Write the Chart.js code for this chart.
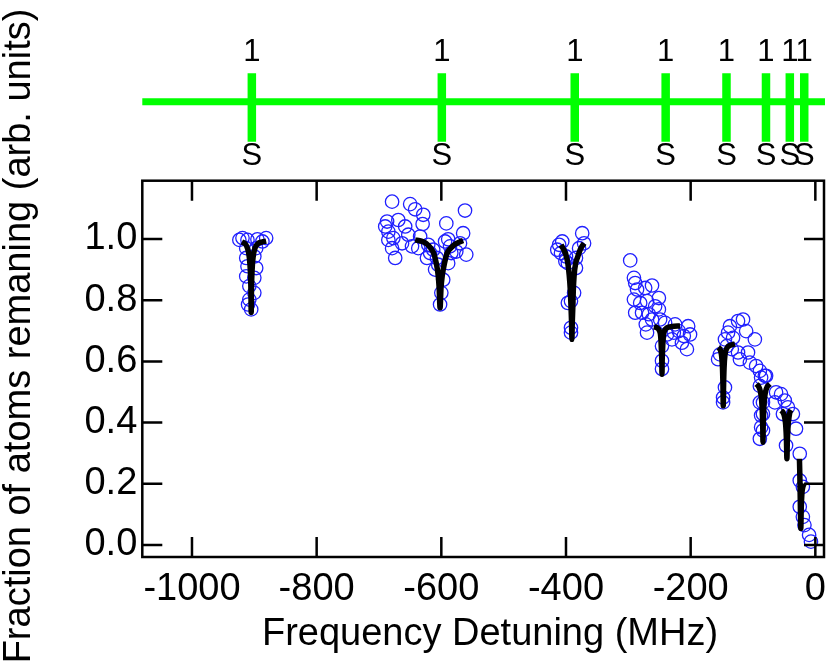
<!DOCTYPE html>
<html><head><meta charset="utf-8">
<script src="https://cdn.jsdelivr.net/npm/chart.js@4.4.1/dist/chart.umd.min.js"></script>
<style>
html,body{margin:0;padding:0;background:#fff;}
#wrap{position:relative;width:832px;height:670px;}
canvas{position:absolute;left:0;top:0;}
</style></head><body>
<div id="wrap">
<canvas id="main" width="832" height="670"></canvas>
<canvas id="top" width="832" height="180"></canvas>
</div>
<script>
// ---------- data ----------
const transitionFreqs = [-905, -602, -390, -245, -148, -85, -47, -24];
const upperLabels = ['1','1','1','1','1','1','1','1'];
const lowerLabels = ['S','S','S','S','S','S','S','S'];
const xTicks = [-1000, -800, -600, -400, -200, 0];
const yTicks = [0.0, 0.2, 0.4, 0.6, 0.8, 1.0];
const xTitle = 'Frequency Detuning (MHz)';
const yTitle = 'Fraction of atoms remaning (arb. units)';

const measured = [
 [-924,0.997],[-919,1.003],[-911,0.997],[-895,0.999],[-881,1.003],[-887,0.992],[-913,0.970],[-897,0.970],
 [-913,0.938],[-900,0.943],[-911,0.911],[-897,0.905],[-913,0.878],[-900,0.873],[-908,0.846],[-900,0.824],
 [-908,0.802],[-905,0.770],[-910,0.786],
 [-679,1.122],[-650,1.114],[-642,1.097],[-629,1.079],[-630,1.049],[-562,1.093],[-592,1.051],[-565,1.019],
 [-687,1.057],[-690,1.041],[-685,1.024],[-669,1.062],[-658,1.041],[-685,0.997],[-677,1.003],[-663,0.986],
 [-674,0.938],[-679,0.970],[-653,1.014],[-634,1.008],[-647,0.976],[-637,0.970],[-621,0.981],[-613,0.965],
 [-623,0.938],[-610,0.900],[-607,0.938],[-597,0.867],[-600,0.824],[-602,0.786],[-586,0.976],[-584,0.954],
 [-589,0.921],[-576,0.959],[-570,0.986],[-560,0.949],[-594,0.992],[-589,0.999],[-618,0.954],[-605,0.916],
 [-392,0.694],[-392,0.710],[-392,0.797],[-397,0.791],[-387,0.824],[-406,0.992],[-411,0.981],[-414,0.965],
 [-408,0.954],[-400,0.943],[-397,0.921],[-384,0.905],[-374,1.019],[-371,0.986],[-379,0.970],[-384,0.938],
 [-401,0.927],
 [-297,0.930],[-291,0.873],[-289,0.856],[-262,0.848],[-286,0.835],[-273,0.840],[-251,0.807],[-291,0.802],
 [-281,0.791],[-270,0.797],[-257,0.780],[-251,0.770],[-289,0.759],[-278,0.759],[-267,0.754],[-262,0.737],
 [-249,0.737],[-272,0.721],[-270,0.694],[-241,0.726],[-225,0.721],[-219,0.699],[-204,0.715],[-201,0.688],
 [-206,0.640],[-214,0.661],[-230,0.672],[-238,0.688],[-246,0.650],[-246,0.602],[-246,0.575],[-211,0.683],
 [-227,0.694],
 [-148,0.466],[-148,0.482],[-145,0.515],[-156,0.607],[-153,0.623],[-145,0.672],[-137,0.715],[-124,0.732],
 [-116,0.737],[-140,0.694],[-132,0.677],[-111,0.699],[-97,0.672],[-121,0.607],[-124,0.629],[-108,0.629],
 [-105,0.596],[-95,0.585],[-87,0.547],[-81,0.553],[-89,0.520],[-89,0.466],[-87,0.423],[-87,0.385],
 [-89,0.347],[-63,0.499],[-65,0.466],[-89,0.569],[-142,0.650],[-134,0.640],
 [-79,0.553],[-84,0.466],[-84,0.428],[-84,0.374],[-55,0.493],[-49,0.472],[-44,0.450],[-36,0.428],
 [-31,0.380],[-47,0.325],[-25,0.298],[-25,0.211],[-20,0.190],[-25,0.125],[-20,0.092],[-17.5,0.065],
 [-10,0.033],[-7,0.011],[-52,0.428]
];

const fit1 = [[-920,0.990],[-915,0.985],[-911,0.970],[-908,0.940],[-906.5,0.900],[-905.5,0.840],[-905,0.760],
 [-904.5,0.840],[-903.5,0.900],[-902,0.940],[-899,0.970],[-894,0.985],[-888,0.990],[-881,0.993]];
const fit2 = [[-642,0.997],[-632,0.993],[-624,0.985],[-617,0.970],[-612,0.952],[-608,0.920],[-605,0.880],
 [-603.5,0.840],[-602,0.775],[-600.5,0.840],[-598.5,0.880],[-595,0.920],[-591,0.952],[-585,0.970],
 [-578,0.983],[-570,0.991],[-565,0.995]];
const fit3 = [[-408,0.981],[-404,0.967],[-400,0.947],[-397,0.920],[-395,0.885],[-393,0.830],[-392,0.780],
 [-391,0.720],[-390.5,0.672],[-390,0.720],[-389,0.780],[-388.3,0.830],[-387,0.880],[-384.5,0.920],
 [-381.5,0.940],[-377,0.966],[-371,0.986]];
const fit4 = [[-259,0.713],[-254,0.710],[-250,0.700],[-248,0.680],[-247,0.640],[-246.3,0.600],[-246,0.558],
 [-245.7,0.600],[-245,0.640],[-244,0.680],[-242,0.700],[-238,0.710],[-230,0.714],[-217,0.716]];
const fit5 = [[-156,0.645],[-153,0.640],[-150.5,0.620],[-149,0.580],[-148.2,0.520],[-147.7,0.455],
 [-147.2,0.520],[-146.4,0.580],[-145,0.620],[-142,0.643],[-137,0.652],[-129,0.657]];
const fit6 = [[-94.6,0.526],[-91,0.518],[-88,0.500],[-86,0.470],[-85,0.430],[-84.3,0.380],[-84,0.336],
 [-83.7,0.380],[-83,0.430],[-82,0.470],[-80,0.500],[-77,0.518],[-73,0.526]];
const fit7 = [[-55,0.439],[-52,0.434],[-49.5,0.420],[-47.5,0.390],[-46.3,0.340],[-45.6,0.282],[-44.9,0.340],
 [-43.7,0.390],[-42,0.420],[-40.5,0.436],[-39,0.441]];
const fit8 = [[-25.5,0.282],[-25,0.240],[-24.6,0.200],[-24.2,0.150],[-23.8,0.100],[-23.3,0.054],
 [-22.6,0.120],[-21.5,0.170],[-20,0.190],[-18,0.200]];
const fits = [fit1, fit2, fit3, fit4, fit5, fit6, fit7, fit8];

// ---------- styling / layout ----------
const FONT = '"Liberation Sans", Arial, Helvetica, sans-serif';
const xMin = -1079.7, xMax = 13.9;
const yMin = -0.0392, yMax = 1.1905;
const PLOT_LEFT = 142.3, PLOT_RIGHT_PAD = 4, PLOT_TOP = 180.7, XAXIS_H = 113;
const BLUE = '#2020ff', GREEN = '#00ff00';

const toXY = arr => arr.map(p => ({x: p[0], y: p[1]}));
const noOverhang = s => { s.paddingLeft = 0; s.paddingRight = 0; s.paddingTop = 0; s.paddingBottom = 0; };

const framePlugin = {
  id: 'frame',
  afterDatasetsDraw(chart) {
    const {ctx, chartArea: a, scales: {x, y}} = chart;
    ctx.save();
    ctx.strokeStyle = '#000';
    ctx.lineWidth = 2.5;
    ctx.lineCap = 'butt';
    ctx.strokeRect(a.left, a.top, a.right - a.left, a.bottom - a.top);
    const TL = 20;
    ctx.beginPath();
    xTicks.forEach(v => {
      const px = x.getPixelForValue(v);
      ctx.moveTo(px, a.bottom); ctx.lineTo(px, a.bottom - TL);
      ctx.moveTo(px, a.top); ctx.lineTo(px, a.top + TL);
    });
    yTicks.forEach(v => {
      const py = y.getPixelForValue(v);
      ctx.moveTo(a.left, py); ctx.lineTo(a.left + TL, py);
      ctx.moveTo(a.right, py); ctx.lineTo(a.right - TL, py);
    });
    ctx.stroke();
    ctx.restore();
  },
  afterDraw(chart) {
    const {ctx} = chart;
    ctx.save();
    ctx.fillStyle = '#000';
    ctx.font = '38px ' + FONT;
    ctx.textAlign = 'center';
    ctx.textBaseline = 'alphabetic';
    ctx.fillText(xTitle, 490, 645);
    ctx.translate(30, 336);
    ctx.rotate(-Math.PI / 2);
    ctx.fillText(yTitle, 0, 0);
    ctx.restore();
  }
};

new Chart(document.getElementById('main'), {
  type: 'scatter',
  data: {
    datasets: [
      ...fits.map(f => ({
        type: 'line', data: toXY(f), showLine: true, borderColor: '#000', borderWidth: 5.5,
        pointRadius: 0, fill: false, cubicInterpolationMode: 'monotone',
        borderJoinStyle: 'round', borderCapStyle: 'butt'
      })),
      {
        data: toXY(measured), showLine: false, pointRadius: 6.7, pointHoverRadius: 6.7,
        pointBorderWidth: 1.3, pointBorderColor: BLUE, pointBackgroundColor: 'rgba(0,0,0,0)'
      }
    ]
  },
  options: {
    responsive: false, animation: false, devicePixelRatio: 1,
    layout: {padding: {left: 0, right: PLOT_RIGHT_PAD, top: PLOT_TOP, bottom: 0}},
    plugins: {legend: {display: false}, tooltip: {enabled: false}},
    scales: {
      x: {
        type: 'linear', min: xMin, max: xMax,
        afterBuildTicks: s => { s.ticks = xTicks.map(v => ({value: v})); },
        afterFit: s => { s.height = XAXIS_H; noOverhang(s); },
        grid: {display: false, drawTicks: false}, border: {display: false},
        ticks: {font: {family: FONT, size: 38}, color: '#000', padding: 10, maxRotation: 0,
                autoSkip: false, callback: v => String(v)}
      },
      y: {
        type: 'linear', min: yMin, max: yMax,
        afterBuildTicks: s => { s.ticks = yTicks.map(v => ({value: v})); },
        afterFit: s => { s.width = PLOT_LEFT; noOverhang(s); },
        grid: {display: false, drawTicks: false}, border: {display: false},
        ticks: {font: {family: FONT, size: 38}, color: '#000', padding: 5,
                autoSkip: false, callback: v => Number(v).toFixed(1)}
      }
    }
  },
  plugins: [framePlugin]
});

// ---------- top transition marker panel ----------
const LINE_Y = 101.7, MARK_TOP = 73.3, MARK_BOT = 141.7, LINE_END = 9.1;
const UP_Y = 52.5, LOW_Y = 156.7;
const markLabelPlugin = {
  id: 'markLabels',
  afterDatasetsDraw(chart) {
    const {ctx, scales: {x}} = chart;
    ctx.save();
    ctx.fillStyle = '#000';
    ctx.font = '31px ' + FONT;
    ctx.textAlign = 'center';
    ctx.textBaseline = 'middle';
    transitionFreqs.forEach((f, i) => {
      const px = x.getPixelForValue(f);
      ctx.fillText(upperLabels[i], px, UP_Y);
      ctx.fillText(lowerLabels[i], px, LOW_Y);
    });
    ctx.restore();
  }
};
new Chart(document.getElementById('top'), {
  type: 'scatter',
  data: {
    datasets: [
      {type: 'line', data: [{x: xMin, y: LINE_Y}, {x: LINE_END, y: LINE_Y}], borderColor: GREEN,
       borderWidth: 7, pointRadius: 0, showLine: true, clip: false, borderCapStyle: 'butt'},
      {type: 'line', data: transitionFreqs.flatMap(f => [{x: f, y: MARK_TOP}, {x: f, y: MARK_BOT}, {x: f, y: null}]),
       borderColor: GREEN, borderWidth: 8.5, pointRadius: 0, showLine: true, spanGaps: false, clip: false,
       borderCapStyle: 'butt'}
    ]
  },
  options: {
    responsive: false, animation: false, devicePixelRatio: 1,
    layout: {padding: {left: PLOT_LEFT, right: PLOT_RIGHT_PAD, top: 0, bottom: 0}},
    plugins: {legend: {display: false}, tooltip: {enabled: false}},
    scales: {
      x: {type: 'linear', min: xMin, max: xMax, display: false},
      y: {type: 'linear', min: 0, max: 180, reverse: true, display: false}
    }
  },
  plugins: [markLabelPlugin]
});
</script>
</body></html>
